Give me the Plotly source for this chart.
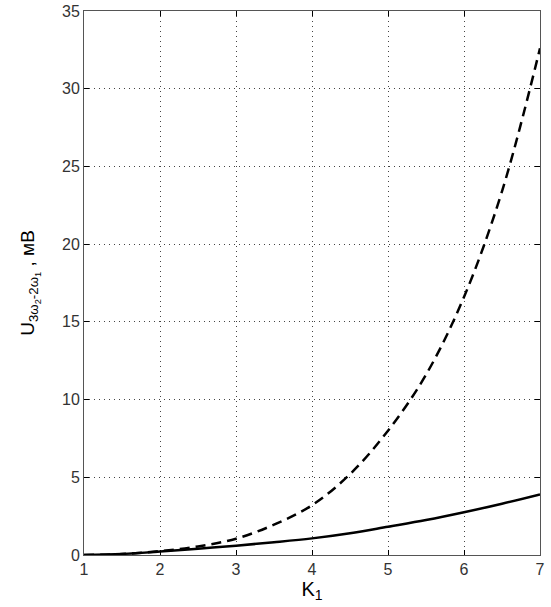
import plotly.graph_objects as go

k1 = [1, 1.5, 2, 2.5, 3, 3.5, 4, 4.5, 5, 5.5, 6, 6.5, 7]
u_solid = [0, 0.07, 0.22, 0.4, 0.6, 0.82, 1.07, 1.4, 1.82, 2.25, 2.75, 3.3, 3.9]
u_dashed = [0, 0.06, 0.25, 0.55, 1.05, 1.95, 3.2, 5.2, 8.0, 11.6, 16.6, 23.4, 32.6]

x_ticks = [1, 2, 3, 4, 5, 6, 7]
y_ticks = [0, 5, 10, 15, 20, 25, 30, 35]

fig = go.Figure()
fig.add_trace(go.Scatter(x=k1, y=u_solid, mode="lines",
                         line=dict(color="black", width=2.5, shape="spline"),
                         showlegend=False))
fig.add_trace(go.Scatter(x=k1, y=u_dashed, mode="lines",
                         line=dict(color="black", width=2.5, dash="10px,6px", shape="spline"),
                         showlegend=False))

axis_common = dict(
    showline=True, mirror="ticks", linecolor="#555", linewidth=1,
    ticks="inside", ticklen=5, tickcolor="black",
    showgrid=True, gridcolor="#444", griddash="1px,4px", gridwidth=1,
    zeroline=False, automargin=False,
    tickfont=dict(family="Liberation Sans, Arial", size=16, color="#333"),
)

fig.update_layout(
    width=551, height=607,
    margin=dict(l=84, r=11, t=11, b=52),
    plot_bgcolor="white", paper_bgcolor="white",
    font=dict(family="Liberation Sans, Arial", color="black"),
    xaxis=dict(range=[1, 7], tickvals=x_ticks, **axis_common,
               title=dict(text="K<sub>1</sub>", font=dict(size=20), standoff=4)),
    yaxis=dict(range=[0, 35], tickvals=y_ticks, **axis_common,
               title=dict(text="U<sub>3ω<sub>2</sub>-2ω<sub>1</sub></sub> , мВ",
                          font=dict(size=19), standoff=22)),
)

fig.write_html("out.html", config={"displayModeBar": False},
               post_script="document.body.style.margin='0';document.body.style.overflow='hidden';")
